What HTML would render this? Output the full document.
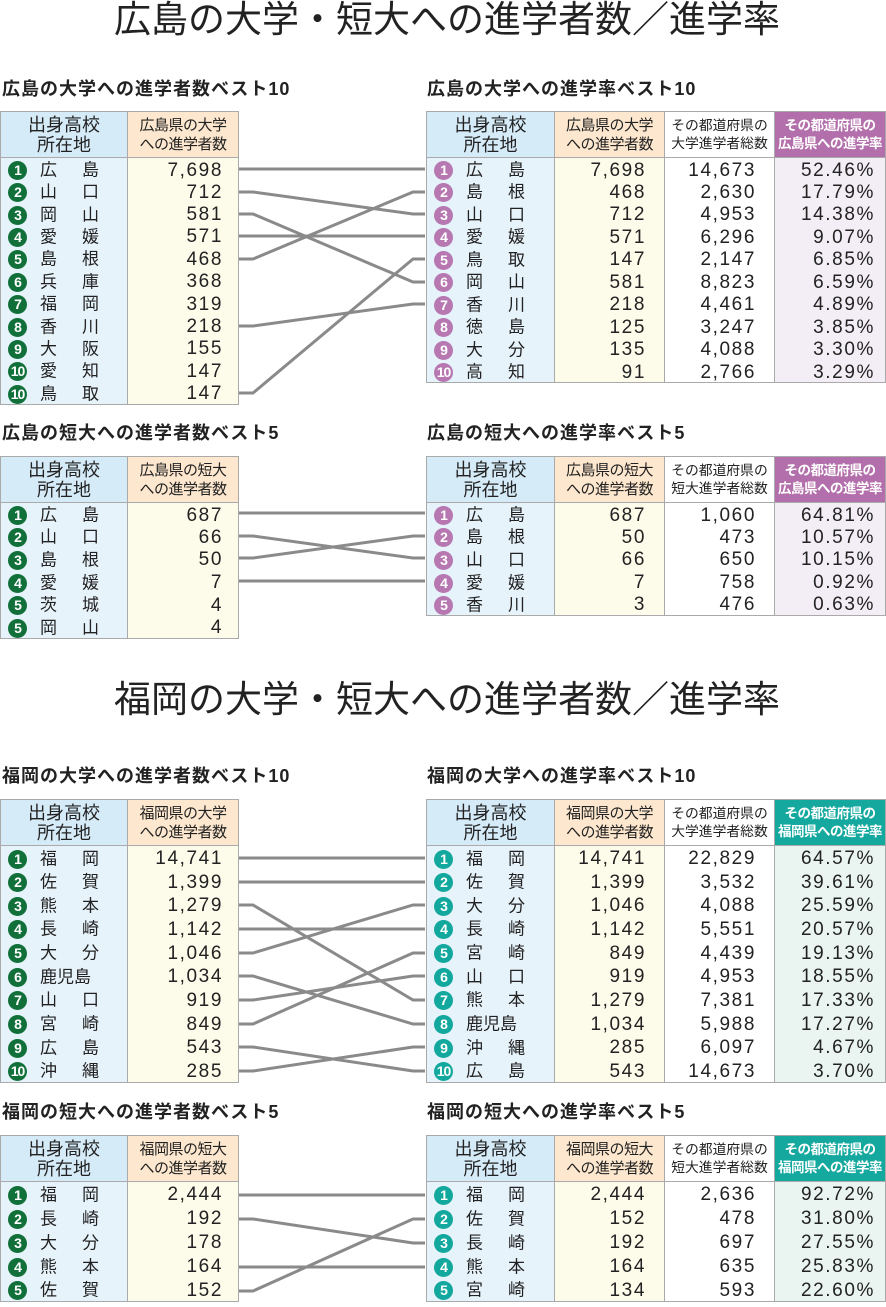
<!DOCTYPE html>
<html><head><meta charset="utf-8"><style>
body{margin:0;width:886px;height:1307px;background:#fff;position:relative;overflow:hidden;font-family:"Liberation Sans","Noto Sans CJK JP",sans-serif;color:#222}
.ttl{position:absolute;left:0;width:886px;text-align:center;font-size:37px;line-height:40px;white-space:nowrap;padding-left:4px}
.lab{position:absolute;font-size:18px;font-weight:bold;line-height:20px;letter-spacing:1px;white-space:nowrap}
table{position:absolute;border-collapse:collapse;table-layout:fixed}
th{border:1px solid #aaa;font-weight:normal;font-size:15.5px;line-height:19px;height:45px;padding:0;white-space:nowrap;overflow:hidden}
th.h1{background:#d6ebf8;font-size:18px;line-height:20px}
th.h2{background:#fde8cf;font-size:15px;line-height:19px;letter-spacing:-0.5px}
th.h3{background:#fff;font-size:13.8px;line-height:18px}
th.hp{background:#b36fab;color:#fff;font-size:13.5px;line-height:18px;font-weight:bold;letter-spacing:-0.5px}
th.ht{background:#15a89f;color:#fff;font-size:13.5px;line-height:18px;font-weight:bold;letter-spacing:-0.5px}
td{border-left:1px solid #aaa;border-right:1px solid #aaa;padding:3px 0 0 0;font-size:17px;line-height:16px;white-space:nowrap;overflow:hidden}
tr:last-child td{border-bottom:1px solid #aaa}
td.c{background:#e7f3fb;padding-left:7px}
td.v,td.w,td.p,td.t{font-size:19px;letter-spacing:1.6px}
td.v{background:#fdfbea;text-align:right;padding-right:15px}
td.w{background:#fff;text-align:right;padding-right:18px}
td.p{background:#f3eef5;text-align:right;padding-right:10px}
td.t{background:#eaf5f2;text-align:right;padding-right:10px}
table.r td.v{padding-right:18px}
i{display:inline-block;width:19px;height:19px;border-radius:50%;color:#fff;font-style:normal;font-weight:bold;font-size:14px;line-height:19px;text-align:center;vertical-align:middle;margin-right:13px;letter-spacing:-1px}
i.g{background:#11703a}i.m{background:#b778b2}i.q{background:#13a89e}
.n{letter-spacing:4px;vertical-align:middle}
svg{position:absolute;left:0;top:0}
</style></head><body>
<div class="ttl" style="top:0">広島の大学・短大への進学者数／進学率</div>
<div class="lab" style="left:2px;top:79px">広島の大学への進学者数ベスト10</div>
<div class="lab" style="left:427px;top:79px">広島の大学への進学率ベスト10</div>
<table style="left:0;top:111px;width:238px"><colgroup><col style="width:127px"><col style="width:111px"></colgroup>
<tr><th class="h1">出身高校<br>所在地</th><th class="h2">広島県の大学<br>への進学者数</th></tr>
<tr style="height:22.4px"><td class="c"><i class="g">1</i><span class="n">広　島</span></td><td class="v">7,698</td></tr>
<tr style="height:22.4px"><td class="c"><i class="g">2</i><span class="n">山　口</span></td><td class="v">712</td></tr>
<tr style="height:22.4px"><td class="c"><i class="g">3</i><span class="n">岡　山</span></td><td class="v">581</td></tr>
<tr style="height:22.4px"><td class="c"><i class="g">4</i><span class="n">愛　媛</span></td><td class="v">571</td></tr>
<tr style="height:22.4px"><td class="c"><i class="g">5</i><span class="n">島　根</span></td><td class="v">468</td></tr>
<tr style="height:22.4px"><td class="c"><i class="g">6</i><span class="n">兵　庫</span></td><td class="v">368</td></tr>
<tr style="height:22.4px"><td class="c"><i class="g">7</i><span class="n">福　岡</span></td><td class="v">319</td></tr>
<tr style="height:22.4px"><td class="c"><i class="g">8</i><span class="n">香　川</span></td><td class="v">218</td></tr>
<tr style="height:22.4px"><td class="c"><i class="g">9</i><span class="n">大　阪</span></td><td class="v">155</td></tr>
<tr style="height:22.4px"><td class="c"><i class="g">10</i><span class="n">愛　知</span></td><td class="v">147</td></tr>
<tr style="height:22.4px"><td class="c"><i class="g">10</i><span class="n">鳥　取</span></td><td class="v">147</td></tr>
</table>
<table class="r" style="left:426px;top:111px;width:459px"><colgroup><col style="width:128px"><col style="width:110px"><col style="width:110px"><col style="width:111px"></colgroup>
<tr><th class="h1">出身高校<br>所在地</th><th class="h2">広島県の大学<br>への進学者数</th><th class="h3">その都道府県の<br>大学進学者総数</th><th class="hp">その都道府県の<br>広島県への進学率</th></tr>
<tr style="height:22.5px"><td class="c"><i class="m">1</i><span class="n">広　島</span></td><td class="v">7,698</td><td class="w">14,673</td><td class="p">52.46%</td></tr>
<tr style="height:22.5px"><td class="c"><i class="m">2</i><span class="n">島　根</span></td><td class="v">468</td><td class="w">2,630</td><td class="p">17.79%</td></tr>
<tr style="height:22.5px"><td class="c"><i class="m">3</i><span class="n">山　口</span></td><td class="v">712</td><td class="w">4,953</td><td class="p">14.38%</td></tr>
<tr style="height:22.5px"><td class="c"><i class="m">4</i><span class="n">愛　媛</span></td><td class="v">571</td><td class="w">6,296</td><td class="p">9.07%</td></tr>
<tr style="height:22.5px"><td class="c"><i class="m">5</i><span class="n">鳥　取</span></td><td class="v">147</td><td class="w">2,147</td><td class="p">6.85%</td></tr>
<tr style="height:22.5px"><td class="c"><i class="m">6</i><span class="n">岡　山</span></td><td class="v">581</td><td class="w">8,823</td><td class="p">6.59%</td></tr>
<tr style="height:22.5px"><td class="c"><i class="m">7</i><span class="n">香　川</span></td><td class="v">218</td><td class="w">4,461</td><td class="p">4.89%</td></tr>
<tr style="height:22.5px"><td class="c"><i class="m">8</i><span class="n">徳　島</span></td><td class="v">125</td><td class="w">3,247</td><td class="p">3.85%</td></tr>
<tr style="height:22.5px"><td class="c"><i class="m">9</i><span class="n">大　分</span></td><td class="v">135</td><td class="w">4,088</td><td class="p">3.30%</td></tr>
<tr style="height:22.5px"><td class="c"><i class="m">10</i><span class="n">高　知</span></td><td class="v">91</td><td class="w">2,766</td><td class="p">3.29%</td></tr>
</table>

<div class="lab" style="left:2px;top:423px">広島の短大への進学者数ベスト5</div>
<div class="lab" style="left:427px;top:423px">広島の短大への進学率ベスト5</div>
<table style="left:0;top:456px;width:238px"><colgroup><col style="width:127px"><col style="width:111px"></colgroup>
<tr><th class="h1">出身高校<br>所在地</th><th class="h2">広島県の短大<br>への進学者数</th></tr>
<tr style="height:22.6px"><td class="c"><i class="g">1</i><span class="n">広　島</span></td><td class="v">687</td></tr>
<tr style="height:22.6px"><td class="c"><i class="g">2</i><span class="n">山　口</span></td><td class="v">66</td></tr>
<tr style="height:22.6px"><td class="c"><i class="g">3</i><span class="n">島　根</span></td><td class="v">50</td></tr>
<tr style="height:22.6px"><td class="c"><i class="g">4</i><span class="n">愛　媛</span></td><td class="v">7</td></tr>
<tr style="height:22.6px"><td class="c"><i class="g">5</i><span class="n">茨　城</span></td><td class="v">4</td></tr>
<tr style="height:22.6px"><td class="c"><i class="g">5</i><span class="n">岡　山</span></td><td class="v">4</td></tr>
</table>
<table class="r" style="left:426px;top:456px;width:459px"><colgroup><col style="width:128px"><col style="width:110px"><col style="width:110px"><col style="width:111px"></colgroup>
<tr><th class="h1">出身高校<br>所在地</th><th class="h2">広島県の短大<br>への進学者数</th><th class="h3">その都道府県の<br>短大進学者総数</th><th class="hp">その都道府県の<br>広島県への進学率</th></tr>
<tr style="height:22.6px"><td class="c"><i class="m">1</i><span class="n">広　島</span></td><td class="v">687</td><td class="w">1,060</td><td class="p">64.81%</td></tr>
<tr style="height:22.6px"><td class="c"><i class="m">2</i><span class="n">島　根</span></td><td class="v">50</td><td class="w">473</td><td class="p">10.57%</td></tr>
<tr style="height:22.6px"><td class="c"><i class="m">3</i><span class="n">山　口</span></td><td class="v">66</td><td class="w">650</td><td class="p">10.15%</td></tr>
<tr style="height:22.6px"><td class="c"><i class="m">4</i><span class="n">愛　媛</span></td><td class="v">7</td><td class="w">758</td><td class="p">0.92%</td></tr>
<tr style="height:22.6px"><td class="c"><i class="m">5</i><span class="n">香　川</span></td><td class="v">3</td><td class="w">476</td><td class="p">0.63%</td></tr>
</table>

<div class="ttl" style="top:680px">福岡の大学・短大への進学者数／進学率</div>
<div class="lab" style="left:2px;top:766px">福岡の大学への進学者数ベスト10</div>
<div class="lab" style="left:427px;top:766px">福岡の大学への進学率ベスト10</div>
<table style="left:0;top:799px;width:238px"><colgroup><col style="width:127px"><col style="width:111px"></colgroup>
<tr><th class="h1">出身高校<br>所在地</th><th class="h2">福岡県の大学<br>への進学者数</th></tr>
<tr style="height:23.7px"><td class="c"><i class="g">1</i><span class="n">福　岡</span></td><td class="v">14,741</td></tr>
<tr style="height:23.7px"><td class="c"><i class="g">2</i><span class="n">佐　賀</span></td><td class="v">1,399</td></tr>
<tr style="height:23.7px"><td class="c"><i class="g">3</i><span class="n">熊　本</span></td><td class="v">1,279</td></tr>
<tr style="height:23.7px"><td class="c"><i class="g">4</i><span class="n">長　崎</span></td><td class="v">1,142</td></tr>
<tr style="height:23.7px"><td class="c"><i class="g">5</i><span class="n">大　分</span></td><td class="v">1,046</td></tr>
<tr style="height:23.7px"><td class="c"><i class="g">6</i><span style="vertical-align:middle">鹿児島</span></td><td class="v">1,034</td></tr>
<tr style="height:23.7px"><td class="c"><i class="g">7</i><span class="n">山　口</span></td><td class="v">919</td></tr>
<tr style="height:23.7px"><td class="c"><i class="g">8</i><span class="n">宮　崎</span></td><td class="v">849</td></tr>
<tr style="height:23.7px"><td class="c"><i class="g">9</i><span class="n">広　島</span></td><td class="v">543</td></tr>
<tr style="height:23.7px"><td class="c"><i class="g">10</i><span class="n">沖　縄</span></td><td class="v">285</td></tr>
</table>
<table class="r" style="left:426px;top:799px;width:459px"><colgroup><col style="width:128px"><col style="width:110px"><col style="width:110px"><col style="width:111px"></colgroup>
<tr><th class="h1">出身高校<br>所在地</th><th class="h2">福岡県の大学<br>への進学者数</th><th class="h3">その都道府県の<br>大学進学者総数</th><th class="ht">その都道府県の<br>福岡県への進学率</th></tr>
<tr style="height:23.7px"><td class="c"><i class="q">1</i><span class="n">福　岡</span></td><td class="v">14,741</td><td class="w">22,829</td><td class="t">64.57%</td></tr>
<tr style="height:23.7px"><td class="c"><i class="q">2</i><span class="n">佐　賀</span></td><td class="v">1,399</td><td class="w">3,532</td><td class="t">39.61%</td></tr>
<tr style="height:23.7px"><td class="c"><i class="q">3</i><span class="n">大　分</span></td><td class="v">1,046</td><td class="w">4,088</td><td class="t">25.59%</td></tr>
<tr style="height:23.7px"><td class="c"><i class="q">4</i><span class="n">長　崎</span></td><td class="v">1,142</td><td class="w">5,551</td><td class="t">20.57%</td></tr>
<tr style="height:23.7px"><td class="c"><i class="q">5</i><span class="n">宮　崎</span></td><td class="v">849</td><td class="w">4,439</td><td class="t">19.13%</td></tr>
<tr style="height:23.7px"><td class="c"><i class="q">6</i><span class="n">山　口</span></td><td class="v">919</td><td class="w">4,953</td><td class="t">18.55%</td></tr>
<tr style="height:23.7px"><td class="c"><i class="q">7</i><span class="n">熊　本</span></td><td class="v">1,279</td><td class="w">7,381</td><td class="t">17.33%</td></tr>
<tr style="height:23.7px"><td class="c"><i class="q">8</i><span style="vertical-align:middle">鹿児島</span></td><td class="v">1,034</td><td class="w">5,988</td><td class="t">17.27%</td></tr>
<tr style="height:23.7px"><td class="c"><i class="q">9</i><span class="n">沖　縄</span></td><td class="v">285</td><td class="w">6,097</td><td class="t">4.67%</td></tr>
<tr style="height:23.7px"><td class="c"><i class="q">10</i><span class="n">広　島</span></td><td class="v">543</td><td class="w">14,673</td><td class="t">3.70%</td></tr>
</table>

<div class="lab" style="left:2px;top:1102px">福岡の短大への進学者数ベスト5</div>
<div class="lab" style="left:427px;top:1102px">福岡の短大への進学率ベスト5</div>
<table style="left:0;top:1135px;width:238px"><colgroup><col style="width:127px"><col style="width:111px"></colgroup>
<tr><th class="h1">出身高校<br>所在地</th><th class="h2">福岡県の短大<br>への進学者数</th></tr>
<tr style="height:24px"><td class="c"><i class="g">1</i><span class="n">福　岡</span></td><td class="v">2,444</td></tr>
<tr style="height:24px"><td class="c"><i class="g">2</i><span class="n">長　崎</span></td><td class="v">192</td></tr>
<tr style="height:24px"><td class="c"><i class="g">3</i><span class="n">大　分</span></td><td class="v">178</td></tr>
<tr style="height:24px"><td class="c"><i class="g">4</i><span class="n">熊　本</span></td><td class="v">164</td></tr>
<tr style="height:24px"><td class="c"><i class="g">5</i><span class="n">佐　賀</span></td><td class="v">152</td></tr>
</table>
<table class="r" style="left:426px;top:1135px;width:459px"><colgroup><col style="width:128px"><col style="width:110px"><col style="width:110px"><col style="width:111px"></colgroup>
<tr><th class="h1">出身高校<br>所在地</th><th class="h2">福岡県の短大<br>への進学者数</th><th class="h3">その都道府県の<br>短大進学者総数</th><th class="ht">その都道府県の<br>福岡県への進学率</th></tr>
<tr style="height:24px"><td class="c"><i class="q">1</i><span class="n">福　岡</span></td><td class="v">2,444</td><td class="w">2,636</td><td class="t">92.72%</td></tr>
<tr style="height:24px"><td class="c"><i class="q">2</i><span class="n">佐　賀</span></td><td class="v">152</td><td class="w">478</td><td class="t">31.80%</td></tr>
<tr style="height:24px"><td class="c"><i class="q">3</i><span class="n">長　崎</span></td><td class="v">192</td><td class="w">697</td><td class="t">27.55%</td></tr>
<tr style="height:24px"><td class="c"><i class="q">4</i><span class="n">熊　本</span></td><td class="v">164</td><td class="w">635</td><td class="t">25.83%</td></tr>
<tr style="height:24px"><td class="c"><i class="q">5</i><span class="n">宮　崎</span></td><td class="v">134</td><td class="w">593</td><td class="t">22.60%</td></tr>
</table>

<svg width="886" height="1307" viewBox="0 0 886 1307" fill="none" stroke="#8a8a8a" stroke-width="3">
<polyline points="239,169 253,169 413,169 425,169"/>
<polyline points="239,192 253,192 413,214 425,214"/>
<polyline points="239,214 253,214 413,282 425,282"/>
<polyline points="239,236 253,236 413,236 425,236"/>
<polyline points="239,259 253,259 413,192 425,192"/>
<polyline points="239,326 253,326 413,304 425,304"/>
<polyline points="239,393 253,393 413,259 425,259"/>
<polyline points="239,513 253,513 413,513 425,513"/>
<polyline points="239,536 253,536 413,558 425,558"/>
<polyline points="239,558 253,558 413,536 425,536"/>
<polyline points="239,581 253,581 413,581 425,581"/>
<polyline points="239,858 253,858 413,858 425,858"/>
<polyline points="239,882 253,882 413,882 425,882"/>
<polyline points="239,905 253,905 413,1000 425,1000"/>
<polyline points="239,929 253,929 413,929 425,929"/>
<polyline points="239,953 253,953 413,905 425,905"/>
<polyline points="239,976 253,976 413,1024 425,1024"/>
<polyline points="239,1000 253,1000 413,976 425,976"/>
<polyline points="239,1024 253,1024 413,953 425,953"/>
<polyline points="239,1047 253,1047 413,1071 425,1071"/>
<polyline points="239,1071 253,1071 413,1047 425,1047"/>
<polyline points="239,1195 253,1195 413,1195 425,1195"/>
<polyline points="239,1219 253,1219 413,1243 425,1243"/>
<polyline points="239,1267 253,1267 413,1267 425,1267"/>
<polyline points="239,1291 253,1291 413,1219 425,1219"/>
</svg>
</body></html>
